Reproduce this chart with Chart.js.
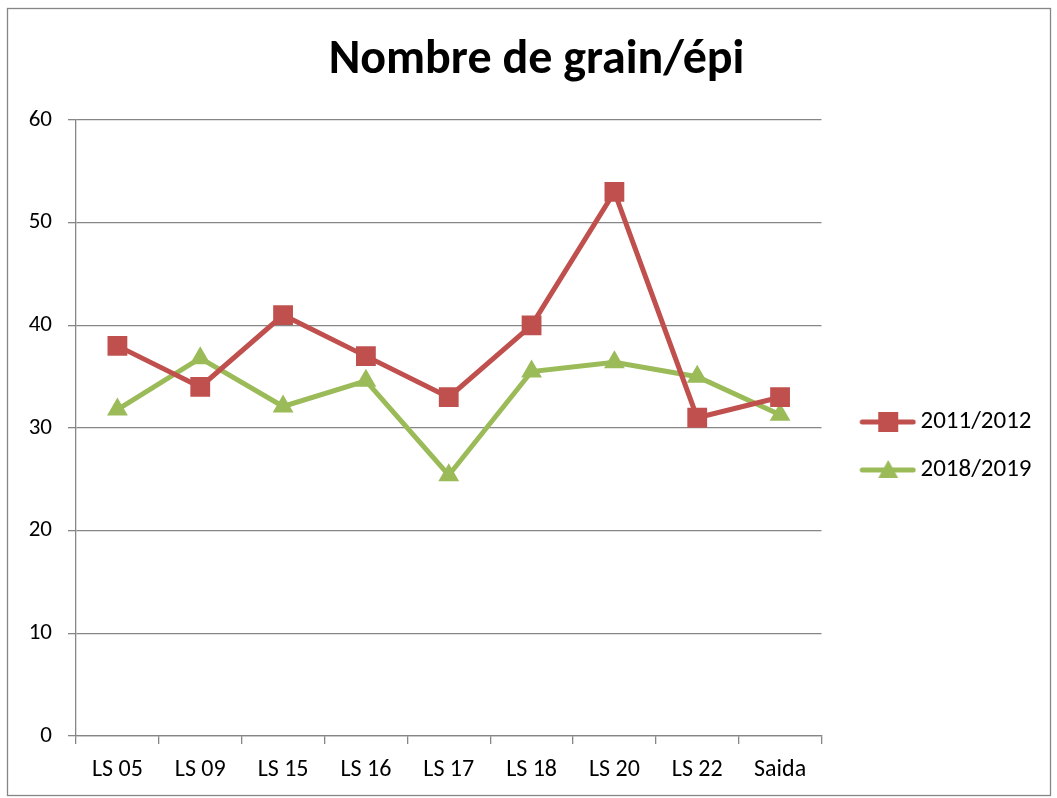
<!DOCTYPE html>
<html>
<head>
<meta charset="utf-8">
<script src="https://cdn.jsdelivr.net/npm/chart.js@4.4.0/dist/chart.umd.min.js"></script>
<style>
  html, body { margin: 0; padding: 0; background: #fff; }
  #wrap { position: relative; width: 1057px; height: 798px; }
</style>
</head>
<body>
<div id="wrap"><canvas id="chart-grain"></canvas></div>
<script>
/* Nombre de grain/épi — line chart */
const categories = ['LS 05', 'LS 09', 'LS 15', 'LS 16', 'LS 17', 'LS 18', 'LS 20', 'LS 22', 'Saida'];
const seriesNames = ['2011/2012', '2018/2019'];
const values2011 = [38, 34, 41, 37, 33, 40, 53, 31, 33];
const values2019 = [31.8, 36.8, 32.1, 34.6, 25.4, 35.5, 36.4, 35.0, 31.3];
const yTicks = [0, 10, 20, 30, 40, 50, 60];

const RED = '#C0504D';
const GREEN = '#9BBB59';
const GRID = '#868686';
const FONT = 'Carlito, Lato, "Open Sans", sans-serif';

// legend swatch: short line with the marker in the middle (blank on the left, wider than the box)
function swatch(color, shape) {
  const c = document.createElement('canvas');
  c.width = 80; c.height = 22;
  const g = c.getContext('2d');
  g.strokeStyle = color; g.lineWidth = 5; g.lineCap = 'round';
  g.beginPath(); g.moveTo(26, 11); g.lineTo(77, 11); g.stroke();
  g.fillStyle = color;
  if (shape === 'rect') {
    g.fillRect(42, 1, 20, 20);
  } else {
    g.beginPath(); g.moveTo(52, 1); g.lineTo(62, 19); g.lineTo(42, 19); g.closePath(); g.fill();
  }
  return c;
}

const frame = {
  id: 'frame',
  afterLayout(chart) {
    // Excel centres the title on the whole chart object
    const t = chart.titleBlock, dx = 536.5 - (t.left + t.right) / 2;
    t.left += dx; t.right += dx;
  },
  beforeDraw(chart) {
    const ctx = chart.ctx;
    ctx.save();
    ctx.strokeStyle = GRID; ctx.lineWidth = 1.3;
    ctx.strokeRect(7.5, 8.5, 1043, 787);
    ctx.restore();
  }
};

const ctx = document.getElementById('chart-grain');
new Chart(ctx, {
  type: 'line',
  data: {
    labels: categories,
    datasets: [
      { label: seriesNames[0], data: values2011, borderColor: RED, backgroundColor: RED, borderWidth: 5,
        pointStyle: 'rect', pointRadius: 14, pointHoverRadius: 14, pointBorderWidth: 0, tension: 0,
        legendImg: swatch(RED, 'rect') },
      { label: seriesNames[1], data: values2019, borderColor: GREEN, backgroundColor: GREEN, borderWidth: 5,
        pointStyle: 'triangle', pointRadius: 12, pointHoverRadius: 12, pointBorderWidth: 0, tension: 0,
        legendImg: swatch(GREEN, 'triangle') }
    ]
  },
  options: {
    responsive: true, maintainAspectRatio: false, animation: false,
    layout: { padding: { left: 10, right: 15.5, top: 10, bottom: 10 } },
    plugins: {
      title: { display: true, text: 'Nombre de grain/épi', color: '#000',
        font: { family: FONT, size: 48, weight: 'bold' }, padding: { top: 22, bottom: 30.4 } },
      legend: {
        position: 'right',
        title: { display: true, text: '', font: { size: 12, lineHeight: 1 }, padding: { top: 82, bottom: 0 } },
        labels: {
          color: '#000', font: { family: FONT, size: 25 }, padding: 23,
          usePointStyle: true, pointStyleWidth: 63.5,
          generateLabels(chart) {
            return chart.data.datasets.map((ds, i) => ({
              text: ds.label, pointStyle: ds.legendImg, fillStyle: ds.borderColor, fontColor: '#000',
              strokeStyle: ds.borderColor, lineWidth: 0, hidden: false, datasetIndex: i
            }));
          }
        }
      },
      tooltip: { enabled: false }
    },
    scales: {
      x: {
        offset: true,
        grid: { offset: true, drawOnChartArea: false, drawTicks: true, tickLength: 8, color: GRID, lineWidth: 1.3 },
        border: { display: true, color: GRID, width: 1.3 },
        ticks: { color: '#000', font: { family: FONT, size: 24 }, padding: 12, maxRotation: 0 },
        afterFit(scale) { scale.height = 52; }
      },
      y: {
        min: 0, max: 60,
        afterBuildTicks(scale) { scale.ticks = yTicks.map(v => ({ value: v })); },
        grid: { color: GRID, lineWidth: 1.3, tickLength: 8 },
        border: { display: true, color: GRID, width: 1.3 },
        ticks: { color: '#000', font: { family: FONT, size: 23 }, padding: 16 },
        afterFit(scale) { scale.width = 66; }
      }
    }
  },
  plugins: [frame]
});
</script>
</body>
</html>
